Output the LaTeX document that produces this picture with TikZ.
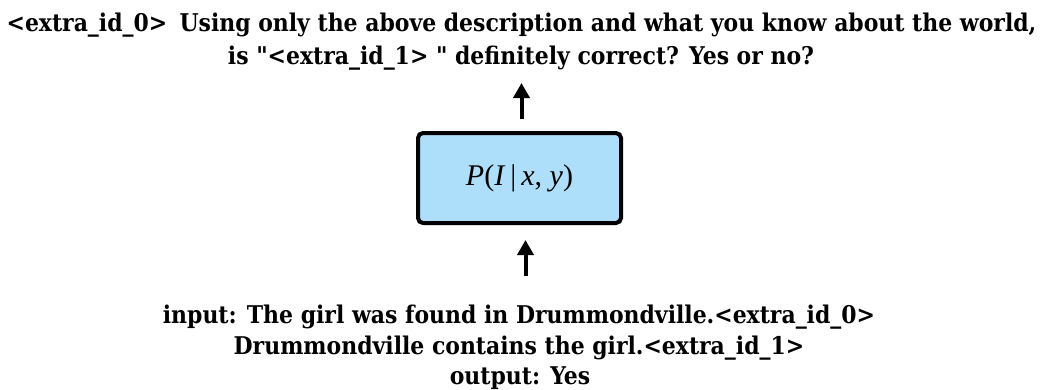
\documentclass[tikz,border=0pt]{standalone}
\usepackage{fontspec}
\setmainfont{DejaVu Serif Condensed}[Ligatures=TeXOff]
\newfontfamily\mathlike{Liberation Serif}
\usetikzlibrary{arrows.meta}
\definecolor{boxblue}{RGB}{174,223,250}
\tikzset{
  txt/.style={inner sep=0pt, anchor=base, font=\fontsize{24.4}{30}\selectfont\bfseries},
  arr/.style={line width=4pt, -{Triangle[length=15pt,width=16pt]}},
  probbox/.style={draw=black, line width=4pt, fill=boxblue, rounded corners=5pt,
    minimum width=203pt, minimum height=90pt, inner sep=0pt,
    font=\fontsize{30}{36}\selectfont\mathlike}
}
\begin{document}
\begin{tikzpicture}[x=1pt,y=1pt]
\useasboundingbox (0,0) rectangle (1042,-389);
\node[txt] (t1) at (521.5,-31) {<extra\_id\_0>\hspace{0.5em}Using only the above description and what you know about the world,};
\node[txt] (t2) at (521,-64) {is "<extra\_id\_1> " definitely correct? Yes or no?};
\node[probbox] (box) at (519.5,-178) {\textit{P}(\textit{I}\,|\,\textit{x}, \textit{y})};
\coordinate (topstart) at (521.5,-119);
\coordinate (topend) at (521.5,-83);
\coordinate (bottomstart) at (525.5,-276);
\coordinate (bottomend) at (525.5,-240);
\draw[arr] (topstart) -- (topend);
\draw[arr] (bottomstart) -- (bottomend);
\node[txt] (b1) at (519,-323) {input: The girl was found in Drummondville.<extra\_id\_0>};
\node[txt] (b2) at (519,-354) {Drummondville contains the girl.<extra\_id\_1>};
\node[txt] (b3) at (520,-384) {output: Yes};
\end{tikzpicture}
\end{document}
